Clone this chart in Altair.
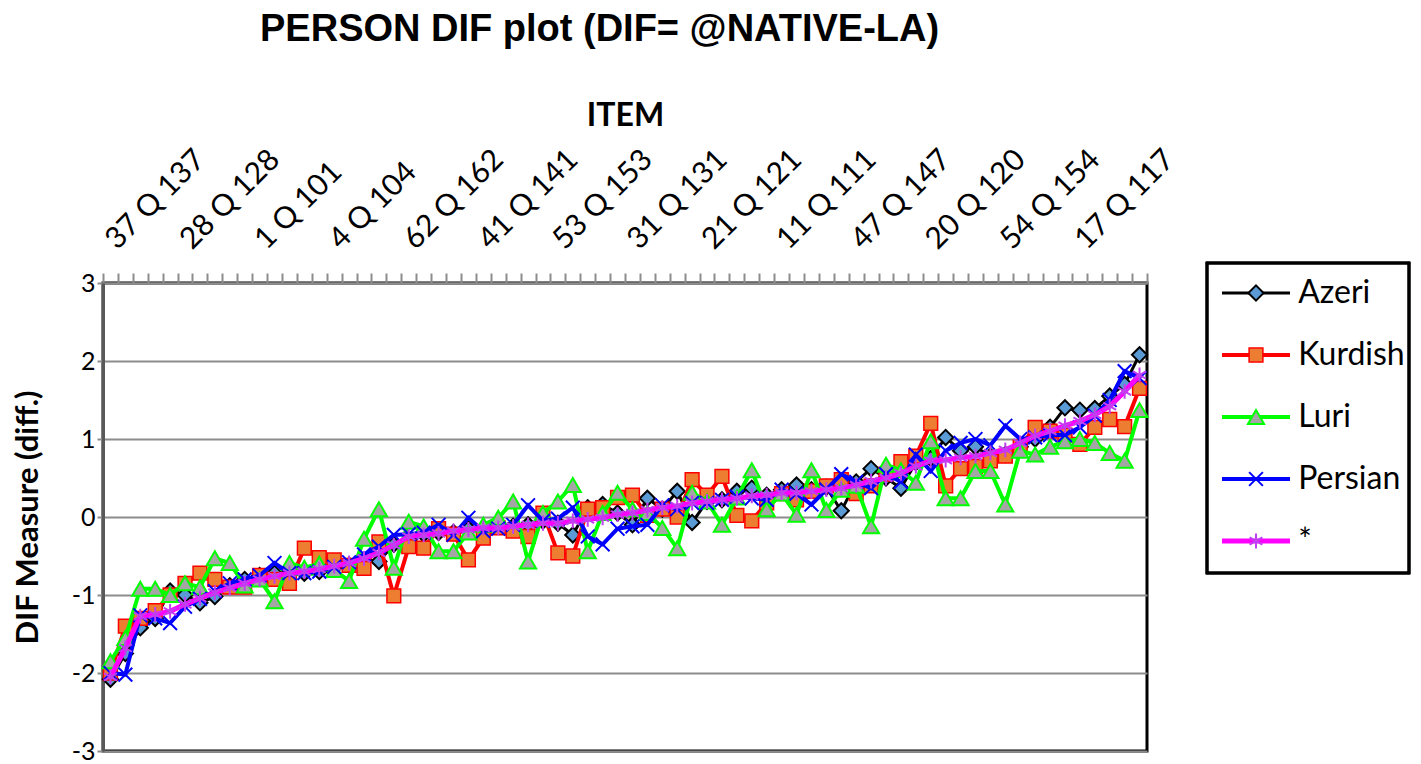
import altair as alt
import pandas as pd

# ---------------- data ----------------
items = list(range(1, 71))
label_items = [1, 6, 11, 16, 21, 26, 31, 36, 41, 46, 51, 56, 61, 66]
label_texts = ["37 Q 137", "28 Q 128", "1 Q 101", "4 Q 104", "62 Q 162", "41 Q 141",
               "53 Q 153", "31 Q 131", "21 Q 121", "11 Q 111", "47 Q 147", "20 Q 120",
               "54 Q 154", "17 Q 117"]
series_names = ["Azeri", "Kurdish", "Luri", "Persian", "*"]
legend_order = [0, 1, 2, 3, 4]
y_ticks = [-3, -2, -1, 0, 1, 2, 3]

azeri = [-2.08, -1.75, -1.42, -1.30, -0.95, -1.00, -1.10, -1.02, -0.88, -0.80,
         -0.75, -0.72, -0.72, -0.72, -0.70, -0.65, -0.62, -0.55, -0.57, -0.35,
         -0.30, -0.22, -0.20, -0.20, -0.15, -0.18, -0.10, -0.12, -0.10, -0.05,
         -0.08, -0.23, 0.12, 0.16, 0.05, -0.10, 0.24, 0.10, 0.33, -0.07,
         0.20, 0.22, 0.33, 0.37, 0.28, 0.35, 0.41, 0.35, 0.38, 0.08,
         0.45, 0.62, 0.50, 0.37, 0.70, 0.75, 1.02, 0.85, 0.90, 0.78,
         0.80, 0.90, 1.00, 1.15, 1.40, 1.37, 1.39, 1.55, 1.70, 2.08]
kurdish = [-2.00, -1.40, -1.30, -1.20, -1.00, -0.85, -0.72, -0.80, -0.90, -0.90,
           -0.75, -0.80, -0.85, -0.40, -0.52, -0.55, -0.62, -0.66, -0.32, -1.01,
           -0.38, -0.40, -0.15, -0.22, -0.55, -0.27, -0.14, -0.18, -0.25, 0.05,
           -0.46, -0.50, 0.10, 0.12, 0.25, 0.28, 0.02, 0.10, 0.00, 0.48,
           0.28, 0.52, 0.02, -0.05, 0.18, 0.30, 0.22, 0.33, 0.40, 0.48,
           0.30, 0.40, 0.55, 0.71, 0.78, 1.20, 0.40, 0.62, 0.65, 0.72,
           0.78, 0.90, 1.15, 1.10, 1.05, 0.93, 1.15, 1.25, 1.16, 1.65]
luri = [-1.85, -1.55, -0.92, -0.92, -1.00, -0.85, -0.90, -0.53, -0.59, -0.88,
        -0.80, -1.08, -0.59, -0.65, -0.60, -0.68, -0.82, -0.28, 0.10, -0.65,
        -0.06, -0.12, -0.44, -0.44, -0.20, -0.10, -0.01, 0.20, -0.57, 0.05,
        0.20, 0.41, -0.44, 0.05, 0.31, 0.10, 0.05, -0.14, -0.40, 0.31,
        0.20, -0.10, 0.25, 0.60, 0.10, 0.30, 0.03, 0.60, 0.09, 0.35,
        0.40, -0.12, 0.67, 0.60, 0.44, 0.97, 0.24, 0.24, 0.59, 0.59,
        0.16, 0.85, 0.80, 0.90, 0.97, 1.00, 0.95, 0.82, 0.72, 1.37]
persian = [-2.00, -2.02, -1.26, -1.30, -1.36, -1.15, -1.05, -0.95, -0.85, -0.80,
           -0.75, -0.59, -0.72, -0.72, -0.70, -0.64, -0.58, -0.48, -0.38, -0.23,
           -0.22, -0.20, -0.10, -0.23, -0.01, -0.18, -0.15, -0.10, 0.15, -0.05,
           -0.02, 0.12, -0.25, -0.35, -0.15, -0.12, -0.10, 0.15, 0.10, 0.18,
           0.18, 0.22, 0.26, 0.24, 0.22, 0.35, 0.30, 0.16, 0.35, 0.55,
           0.45, 0.37, 0.55, 0.45, 0.80, 0.59, 0.85, 0.95, 1.00, 0.92,
           1.17, 1.00, 1.02, 1.05, 1.05, 1.15, 1.30, 1.50, 1.87, 1.78]
star = [-2.05, -1.68, -1.27, -1.25, -1.21, -1.12, -1.04, -0.97, -0.91, -0.85,
        -0.80, -0.76, -0.72, -0.70, -0.67, -0.63, -0.59, -0.53, -0.46, -0.36,
        -0.25, -0.23, -0.21, -0.18, -0.16, -0.14, -0.14, -0.12, -0.10, -0.08,
        -0.08, -0.05, -0.03, -0.01, 0.03, 0.05, 0.09, 0.12, 0.14, 0.18,
        0.20, 0.22, 0.24, 0.27, 0.28, 0.31, 0.31, 0.33, 0.35, 0.37,
        0.41, 0.46, 0.50, 0.56, 0.65, 0.72, 0.73, 0.76, 0.78, 0.82,
        0.86, 0.95, 1.04, 1.10, 1.17, 1.23, 1.31, 1.42, 1.61, 1.82]
series_values = [azeri, kurdish, luri, persian, star]

rows = []
for name, vals in zip(series_names, series_values):
    for it, v in zip(items, vals):
        rows.append({"item": it, "series": name, "value": v})
df = pd.DataFrame(rows)

legend_df = pd.DataFrame({"series": series_names, "k": legend_order,
                          "x0": 0.0, "x1": 1.0, "xm": 0.5, "xt": 1.12})

# ---------------- styles ----------------
X_PATH = "M-1,-1L1,1M-1,1L1,-1"
STAR_PATH = "M0,-1L0,1M-0.87,-0.5L0.87,0.5M-0.87,0.5L0.87,-0.5"
styles = {
    "Azeri":   dict(line="#000000", lw=3, shape="diamond", size=230, filled=True,
                    fill="#5B9BD5", stroke="#000000", sw=2),
    "Kurdish": dict(line="#FF0000", lw=4, shape="square", size=190, filled=True,
                    fill="#ED7D31", stroke="#FF0000", sw=1.5),
    "Luri":    dict(line="#00FF00", lw=4, shape="triangle-up", size=260, filled=True,
                    fill="#A5A5A5", stroke="#00FF00", sw=2),
    "Persian": dict(line="#0000FF", lw=4, shape=X_PATH, size=190, filled=False,
                    fill="none", stroke="#0000FF", sw=2),
    "*":       dict(line="#FF00FF", lw=5, shape=STAR_PATH, size=220, filled=False,
                    fill="none", stroke="#C040F0", sw=2),
}

FONT = "Lato"
label_expr = " : ".join(f"datum.value == {i} ? '{t}'" for i, t in zip(label_items, label_texts)) + " : ''"

x_axis = alt.Axis(orient="top", title="ITEM", labelExpr=label_expr, labelAngle=-45,
                  labelAlign="left", labelBaseline="middle", labelOverlap=False,
                  labelBound=False, labelFont=FONT, labelFontSize=30, labelPadding=29,
                  tickBand="extent", tickSize=10, tickColor="#8C8C8C", tickWidth=2,
                  domainColor="#8C8C8C", domainWidth=2, grid=False,
                  titleFont=FONT, titleFontSize=32, titleFontWeight="bold", titlePadding=12)
y_axis = alt.Axis(values=y_ticks, title="DIF Measure (diff.)", grid=True,
                  labelExpr="'' + datum.value",
                  gridColor="#8C8C8C", gridWidth=2, domainColor="#595959", domainWidth=3,
                  tickColor="#8C8C8C", tickWidth=2, tickSize=6, labelPadding=2,
                  labelFont=FONT, labelFontSize=25, titleFont=FONT, titleFontSize=31,
                  titleFontWeight="bold", titlePadding=27)

x_enc = alt.X("item:O", scale=alt.Scale(type="band", paddingInner=0, paddingOuter=0), axis=x_axis)
y_enc = alt.Y("value:Q", scale=alt.Scale(domain=[-3, 3], nice=False, zero=False), axis=y_axis)

data_layers = []
for name in series_names:
    st = styles[name]
    base = alt.Chart(df).transform_filter(alt.datum.series == name)
    data_layers.append(base.mark_line(color=st["line"], strokeWidth=st["lw"], opacity=1)
                       .encode(x=x_enc, y=y_enc))
    data_layers.append(base.mark_point(shape=st["shape"], size=st["size"], filled=st["filled"],
                                       fill=st["fill"], stroke=st["stroke"], strokeWidth=st["sw"],
                                       opacity=1, fillOpacity=1)
                       .encode(x=x_enc, y=y_enc))
main = alt.layer(*data_layers)

# legend drawn with its own scales, placed to the right of the plot area
lx = alt.Scale(domain=[0, 1], range=[1119, 1187])
ly = alt.Scale(domain=[0, 4], range=[10, 258], nice=False, zero=False)
leg_layers = [
    alt.Chart(legend_df).mark_rect(filled=False, stroke="black", strokeWidth=2.5).encode(
        x=alt.value(1104), x2=alt.value(1306), y=alt.value(-20), y2=alt.value(290))
]
for name in series_names:
    st = styles[name]
    lb = alt.Chart(legend_df).transform_filter(alt.datum.series == name)
    leg_layers.append(lb.mark_rule(color=st["line"], strokeWidth=st["lw"]).encode(
        x=alt.X("x0:Q", scale=lx, axis=None), x2="x1:Q",
        y=alt.Y("k:Q", scale=ly, axis=None)))
    leg_layers.append(lb.mark_point(shape=st["shape"], size=st["size"], filled=st["filled"],
                                    fill=st["fill"], stroke=st["stroke"], strokeWidth=st["sw"],
                                    opacity=1, fillOpacity=1).encode(
        x=alt.X("xm:Q", scale=lx, axis=None), y=alt.Y("k:Q", scale=ly, axis=None)))
    leg_layers.append(lb.mark_text(align="left", baseline="middle", font=FONT, fontSize=32,
                                   color="black").encode(
        x=alt.X("xt:Q", scale=lx, axis=None), y=alt.Y("k:Q", scale=ly, axis=None),
        text="series:N"))
legend = alt.layer(*leg_layers)

chart = alt.layer(main, legend).resolve_scale(x="independent", y="independent").properties(
    width=1044, height=468,
    padding={"left": 4, "top": 3, "right": 0, "bottom": 0},
    title=alt.TitleParams(text="PERSON DIF plot (DIF= @NATIVE-LA)", font="Liberation Sans",
                          fontSize=38, fontWeight="bold", anchor="start", frame="group",
                          dx=157, offset=50, color="black"),
).configure_view(stroke="black", strokeWidth=3).configure_axis(
    labelColor="black", titleColor="black")

chart.save("out.html", embed_options={"renderer": "svg", "actions": False})
